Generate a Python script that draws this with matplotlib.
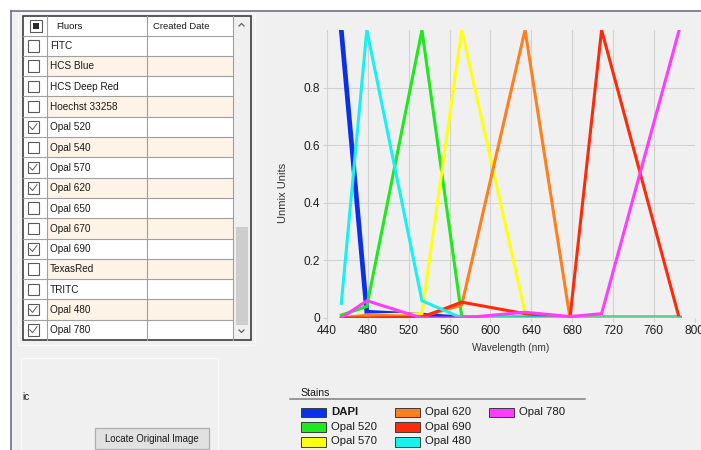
import matplotlib
matplotlib.use('Agg')
import matplotlib.pyplot as plt
from matplotlib.patches import Rectangle

plt.rcParams['font.family'] = ['Liberation Sans', 'DejaVu Sans']

# spectra data
wavelengths = [454, 479, 533, 572, 634, 678, 709, 785]
stains = ['DAPI', 'Opal 520', 'Opal 570', 'Opal 620', 'Opal 690', 'Opal 480', 'Opal 780']
stain_colors = ['#0b30e8', '#1ee81e', '#ffff14', '#ff7f1e', '#ff2a0a', '#19f0f0', '#ff3cff']
dapi = [1.0, 0.02, 0.01, 0.0, 0.0, 0.0, 0.0, 0.0]
opal_520 = [0.01, 0.04, 1.0, 0.005, 0.0, 0.0, 0.0, 0.0]
opal_570 = [0.0, 0.01, 0.015, 1.0, 0.02, 0.0, 0.0, 0.0]
opal_620 = [0.0, 0.01, 0.005, 0.045, 1.0, 0.0, 0.0, 0.0]
opal_690 = [0.0, 0.0, 0.003, 0.055, 0.015, 0.0, 1.0, 0.0]
opal_480 = [0.05, 1.0, 0.06, 0.0, 0.0, 0.0, 0.0, 0.0]
opal_780 = [0.0, 0.06, 0.0, 0.0, 0.02, 0.005, 0.015, 1.0]
series = [dapi, opal_520, opal_570, opal_620, opal_690, opal_480, opal_780]

x_ticks = [440, 480, 520, 560, 600, 640, 680, 720, 760, 800]
y_ticks = [0, 0.2, 0.4, 0.6, 0.8]
y_ticklabels = ['0', '0.2', '0.4', '0.6', '0.8']

# fluor list in the table
fluors = ['FITC', 'HCS Blue', 'HCS Deep Red', 'Hoechst 33258', 'Opal 520', 'Opal 540',
          'Opal 570', 'Opal 620', 'Opal 650', 'Opal 670', 'Opal 690', 'TexasRed',
          'TRITC', 'Opal 480', 'Opal 780']
checked = [False, False, False, False, True, False, True, True, False, False, True,
           False, False, True, True]

W, H = 701, 450
fig = plt.figure(figsize=(W / 100, H / 100), dpi=100, facecolor='white')

# background "window" drawn in pixel coordinates
bg = fig.add_axes([0, 0, 1, 1])
bg.set_xlim(0, W)
bg.set_ylim(H, 0)
bg.axis('off')
bg.add_patch(Rectangle((11, 11), W - 11, H - 11, facecolor='#f0f0f0', edgecolor='none'))
bg.plot([11, W], [11, 11], c='#6d7383', lw=1.2)
bg.plot([11, 11], [11, H], c='#6d7383', lw=1.2)

# panel round the table
bg.add_patch(Rectangle((18, 13), 237, 332, facecolor='none', edgecolor='#f9f9f9', lw=1))

# table
tx0, tx1 = 23, 251
col1, col2, sb = 47, 147, 233
top, head_h, row_h = 16, 19.5, 20.3
bg.add_patch(Rectangle((tx0, top), sb - tx0, head_h, facecolor='white', edgecolor='none'))
for i, name in enumerate(fluors):
    y0 = top + head_h + i * row_h
    fill = 'white' if i % 2 == 0 else '#fdf3e6'
    bg.add_patch(Rectangle((col1, y0), sb - col1, row_h, facecolor=fill, edgecolor='none'))
    bg.add_patch(Rectangle((tx0, y0), col1 - tx0, row_h, facecolor='white', edgecolor='none'))
    bg.plot([tx0, sb], [y0, y0], c='#a0a0a0', lw=0.8)
    bg.add_patch(Rectangle((27.5, y0 + 4.5), 11.5, 11.5, facecolor='white', edgecolor='#5a5a5a', lw=0.8))
    if checked[i]:
        bg.plot([29.8, 32.5, 37], [y0 + 10, y0 + 13, y0 + 7], c='#5a5a5a', lw=0.7)
    bg.text(50, y0 + row_h / 2 + 0.5, name, fontsize=7.2, va='center', ha='left', color='#1a1a1a')
for xc in [col1, col2, sb]:
    bg.plot([xc, xc], [top, top + head_h + 15 * row_h], c='#a0a0a0', lw=0.8)
# header
bg.add_patch(Rectangle((30, 20), 11.5, 11.5, facecolor='white', edgecolor='#5a5a5a', lw=0.8))
bg.add_patch(Rectangle((32.8, 22.8), 6, 6, facecolor='#2a2a2a', edgecolor='none'))
bg.text(56, top + head_h / 2 + 0.5, 'Fluors', fontsize=6.8, va='center', color='#1a1a1a')
bg.text(153, top + head_h / 2 + 0.5, 'Created Date', fontsize=6.8, va='center', color='#1a1a1a')
# scrollbar
bg.add_patch(Rectangle((sb, top), tx1 - sb, 15 * row_h + head_h, facecolor='#f0f0f0', edgecolor='none'))
bg.add_patch(Rectangle((236, 227), 12, 98, facecolor='#cdcdcd', edgecolor='none'))
bg.plot([239, 241.5, 244], [26, 23.5, 26], c='#606060', lw=0.9)
bg.plot([239, 241.5, 244], [330, 332.5, 330], c='#606060', lw=0.9)
bg.add_patch(Rectangle((tx0, top), tx1 - tx0, head_h + 15 * row_h, facecolor='none',
                       edgecolor='#3c3c3c', lw=1.2))

# lower left panel and button
bg.add_patch(Rectangle((21, 358), 197, 100, facecolor='none', edgecolor='#f9f9f9', lw=1))
bg.text(22, 397, 'ic', fontsize=7.1, va='center', color='#1a1a1a')
bg.add_patch(Rectangle((95, 428), 114, 21, facecolor='#e1e1e1', edgecolor='#adadad', lw=0.9))
bg.text(152, 438.5, 'Locate Original Image', fontsize=6.9, ha='center', va='center', color='#1a1a1a')

# legend of stains
bg.text(300, 392.5, 'Stains', fontsize=7.6, va='center', color='#1a1a1a')
bg.plot([290, 585], [399, 399], c='#808080', lw=1.1)
for i, (name, col) in enumerate(zip(stains, stain_colors)):
    cx = [301, 395, 489][i // 3]
    cy = [412, 426.5, 441.5][i % 3]
    bg.add_patch(Rectangle((cx, cy - 4.5), 25, 9.5, facecolor=col, edgecolor='#3a3a3a', lw=0.7))
    bg.text(cx + 30, cy, name, fontsize=8.2, va='center', color='#1a1a1a',
            fontweight='bold' if name == 'DAPI' else 'normal')

# the chart
ax = fig.add_axes([327 / W, (H - 318) / H, 367.5 / W, 288 / H])
ax.set_facecolor('none')
for name, col, vals in zip(stains, stain_colors, series):
    ax.plot(wavelengths, vals, c=col, lw=3.4 if name == 'DAPI' else 2.2,
            solid_joinstyle='miter', zorder=3)
ax.set_xlim(440, 800)
ax.set_ylim(0, 1.0)
ax.set_xticks(x_ticks)
ax.set_yticks(y_ticks)
ax.set_yticklabels(y_ticklabels)
ax.grid(True, color='#d2d2d2', lw=0.8)
for s in ax.spines.values():
    s.set_visible(False)
ax.tick_params(length=3, color='#d2d2d2', labelsize=8.6, labelcolor='#1e1e1e', pad=2)
ax.set_xlabel('Wavelength (nm)', fontsize=7.3, color='#333333')
ax.set_ylabel('Unmix Units', fontsize=8, color='#333333')
ax.xaxis.label.set_va('center')
ax.yaxis.label.set_va('center')
ax.xaxis.set_label_coords(0.5, -0.104)
ax.yaxis.set_label_coords(-0.12, 0.434)

fig.savefig('out.png', dpi=100, facecolor='white')
